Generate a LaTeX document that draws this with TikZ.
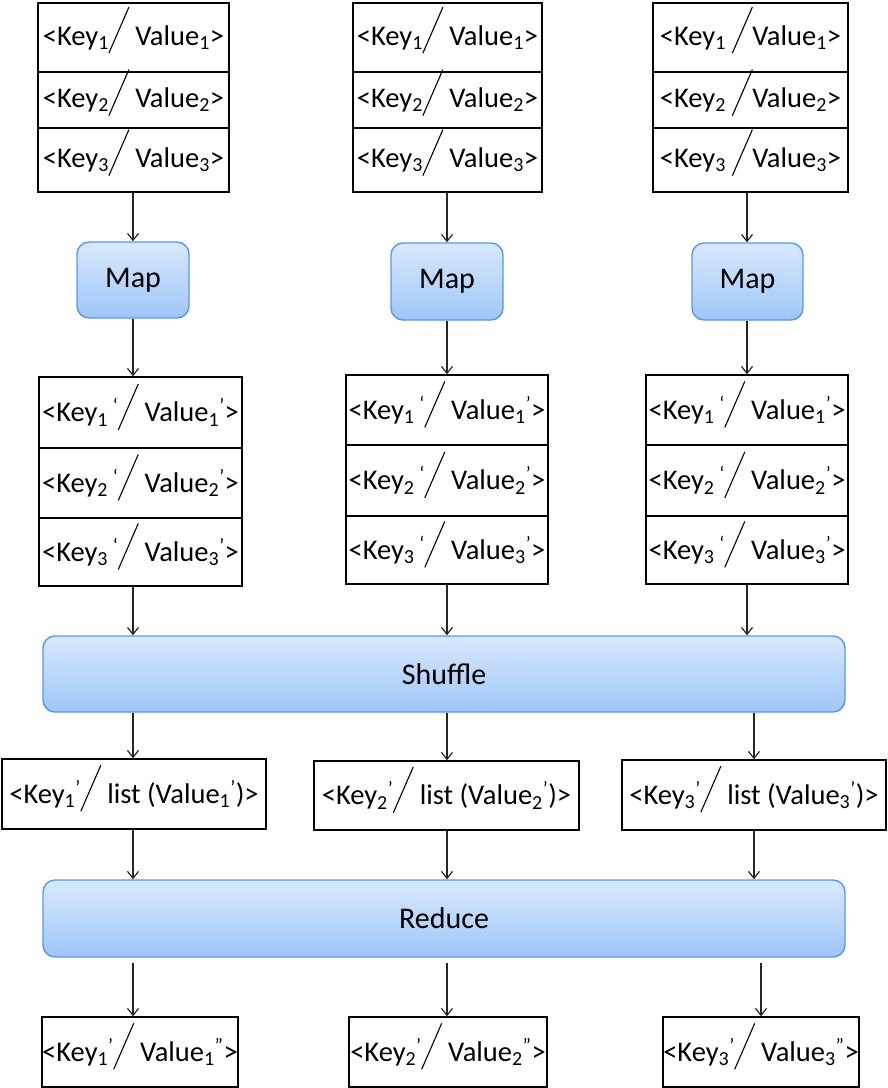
\documentclass[tikz,border=0pt]{standalone}
\usepackage{fontspec}
\setmainfont{Carlito}
\usepackage{pict2e}
\usepackage{tikz}
\usetikzlibrary{arrows.meta}

% tall slash between key and value
\newcommand{\kvsep}{{\setlength{\unitlength}{1pt}\linethickness{1.1pt}\begin{picture}(20,0)\put(0,-8){\line(10,23){20}}\end{picture}}}

\definecolor{phaseedge}{RGB}{90,150,240}
\definecolor{phasetop}{RGB}{216,233,252}
\definecolor{phasebot}{RGB}{158,198,248}

\tikzset{
  pair/.style={draw,line width=1.3pt,inner sep=0pt,font=\fontsize{28.5}{33}\selectfont},
  phase/.style={draw=phaseedge,line width=1.4pt,rounded corners=12pt,top color=phasetop,bottom color=phasebot,inner sep=0pt,font=\fontsize{30}{34}\selectfont},
  flow/.style={line width=1.2pt,draw=black!85,-{Straight Barb[length=7pt,width=11pt]}}
}

\begin{document}
\begin{tikzpicture}[x=1pt,y=-1pt]
        \useasboundingbox (0,0) rectangle (888,1088);
        \coordinate (c1) at (133,0);
        \coordinate (c2) at (447,0);
        \coordinate (c3) at (747,0);

        % Input pairs
        \node[pair,minimum width=191pt,minimum height=69pt] (in1a) at (133.5,37.5) {<Key\textsubscript{1}\kvsep\ Value\textsubscript{1}>};
        \node[pair,minimum width=191pt,minimum height=56pt] (in1b) at (133.5,100) {<Key\textsubscript{2}\kvsep\ Value\textsubscript{2}>};
        \node[pair,minimum width=191pt,minimum height=64pt] (in1c) at (133.5,160) {<Key\textsubscript{3}\kvsep\ Value\textsubscript{3}>};
        \node[pair,minimum width=189pt,minimum height=69pt] (in2a) at (447.5,37.5) {<Key\textsubscript{1}\kvsep\ Value\textsubscript{1}>};
        \node[pair,minimum width=189pt,minimum height=56pt] (in2b) at (447.5,100) {<Key\textsubscript{2}\kvsep\ Value\textsubscript{2}>};
        \node[pair,minimum width=189pt,minimum height=64pt] (in2c) at (447.5,160) {<Key\textsubscript{3}\kvsep\ Value\textsubscript{3}>};
        \node[pair,minimum width=195pt,minimum height=69pt] (in3a) at (750.5,37.5) {<Key\textsubscript{1} \kvsep Value\textsubscript{1}>};
        \node[pair,minimum width=195pt,minimum height=56pt] (in3b) at (750.5,100) {<Key\textsubscript{2} \kvsep Value\textsubscript{2}>};
        \node[pair,minimum width=195pt,minimum height=64pt] (in3c) at (750.5,160) {<Key\textsubscript{3} \kvsep Value\textsubscript{3}>};

        % Map boxes
        \node[phase,minimum width=112pt,minimum height=76pt] (map1) at (133,280) {Map};
        \node[phase,minimum width=112pt,minimum height=77pt] (map2) at (447,281.5) {Map};
        \node[phase,minimum width=111pt,minimum height=77pt] (map3) at (747.5,281.5) {Map};

        % Intermediate pairs
        \node[pair,minimum width=203pt,minimum height=71pt] (mid1a) at (140.5,412.5) {<Key\textsubscript{1}\,\textsuperscript{‘}\kvsep\ Value\textsubscript{1}\textsuperscript{’}>};
        \node[pair,minimum width=203pt,minimum height=70pt] (mid1b) at (140.5,483) {<Key\textsubscript{2}\,\textsuperscript{‘}\kvsep\ Value\textsubscript{2}\textsuperscript{’}>};
        \node[pair,minimum width=203pt,minimum height=68pt] (mid1c) at (140.5,552) {<Key\textsubscript{3}\,\textsuperscript{‘}\kvsep\ Value\textsubscript{3}\textsuperscript{’}>};
        \node[pair,minimum width=202pt,minimum height=70pt] (mid2a) at (447,410) {<Key\textsubscript{1}\,\textsuperscript{‘}\kvsep\ Value\textsubscript{1}\textsuperscript{’}>};
        \node[pair,minimum width=202pt,minimum height=71pt] (mid2b) at (447,480.5) {<Key\textsubscript{2}\,\textsuperscript{‘}\kvsep\ Value\textsubscript{2}\textsuperscript{’}>};
        \node[pair,minimum width=202pt,minimum height=68pt] (mid2c) at (447,550) {<Key\textsubscript{3}\,\textsuperscript{‘}\kvsep\ Value\textsubscript{3}\textsuperscript{’}>};
        \node[pair,minimum width=202pt,minimum height=70pt] (mid3a) at (747,410) {<Key\textsubscript{1}\,\textsuperscript{‘}\kvsep\ Value\textsubscript{1}\textsuperscript{’}>};
        \node[pair,minimum width=202pt,minimum height=71pt] (mid3b) at (747,480.5) {<Key\textsubscript{2}\,\textsuperscript{‘}\kvsep\ Value\textsubscript{2}\textsuperscript{’}>};
        \node[pair,minimum width=202pt,minimum height=68pt] (mid3c) at (747,550) {<Key\textsubscript{3}\,\textsuperscript{‘}\kvsep\ Value\textsubscript{3}\textsuperscript{’}>};

        % Shuffle and Reduce
        \node[phase,minimum width=802pt,minimum height=76pt] (shuffle) at (444,674) {Shuffle};
        \node[phase,minimum width=802pt,minimum height=77pt] (reduce) at (444,918.5) {Reduce};

        % Grouped lists
        \node[pair,minimum width=264pt,minimum height=70pt] (lst1) at (134,794) {<Key\textsubscript{1}\textsuperscript{’}\kvsep\ list (Value\textsubscript{1}\textsuperscript{’})>};
        \node[pair,minimum width=265pt,minimum height=69pt] (lst2) at (446.5,795.5) {<Key\textsubscript{2}\textsuperscript{’}\kvsep\ list (Value\textsubscript{2}\textsuperscript{’})>};
        \node[pair,minimum width=264pt,minimum height=70pt] (lst3) at (754,795) {<Key\textsubscript{3}\textsuperscript{’}\kvsep\ list (Value\textsubscript{3}\textsuperscript{’})>};

        % Output pairs
        \node[pair,minimum width=196pt,minimum height=70pt] (out1) at (140,1052) {<Key\textsubscript{1}\textsuperscript{’}\kvsep\ Value\textsubscript{1}\textsuperscript{”}>};
        \node[pair,minimum width=198pt,minimum height=70pt] (out2) at (448,1052) {<Key\textsubscript{2}\textsuperscript{’}\kvsep\ Value\textsubscript{2}\textsuperscript{”}>};
        \node[pair,minimum width=196pt,minimum height=70pt] (out3) at (761,1052) {<Key\textsubscript{3}\textsuperscript{’}\kvsep\ Value\textsubscript{3}\textsuperscript{”}>};

        % Arrows
        \draw[flow] (in1c.south -| c1) -- (map1.north -| c1);
        \draw[flow] (in2c.south -| c2) -- (map2.north -| c2);
        \draw[flow] (in3c.south -| c3) -- (map3.north -| c3);
        \draw[flow] (map1.south -| c1) -- (mid1a.north -| c1);
        \draw[flow] (map2.south -| c2) -- (mid2a.north -| c2);
        \draw[flow] (map3.south -| c3) -- (mid3a.north -| c3);
        \draw[flow] (mid1c.south -| c1) -- (shuffle.north -| c1);
        \draw[flow] (mid2c.south -| c2) -- (shuffle.north -| c2);
        \draw[flow] (mid3c.south -| c3) -- (shuffle.north -| c3);
        \draw[flow] (shuffle.south -| c1) -- (lst1.north -| c1);
        \draw[flow] (shuffle.south -| c2) -- (lst2.north -| c2);
        \draw[flow] (shuffle.south -| lst3.north) -- (lst3.north);
        \draw[flow] (lst1.south -| c1) -- (reduce.north -| c1);
        \draw[flow] (lst2.south -| c2) -- (reduce.north -| c2);
        \draw[flow] (lst3.south) -- (reduce.north -| lst3.south);
        \draw[flow,shorten <=5pt] (reduce.south -| c1) -- (out1.north -| c1);
        \draw[flow,shorten <=5pt] (reduce.south -| c2) -- (out2.north -| c2);
        \draw[flow,shorten <=5pt] (reduce.south -| out3.north) -- (out3.north);
    \end{tikzpicture}
\end{document}
